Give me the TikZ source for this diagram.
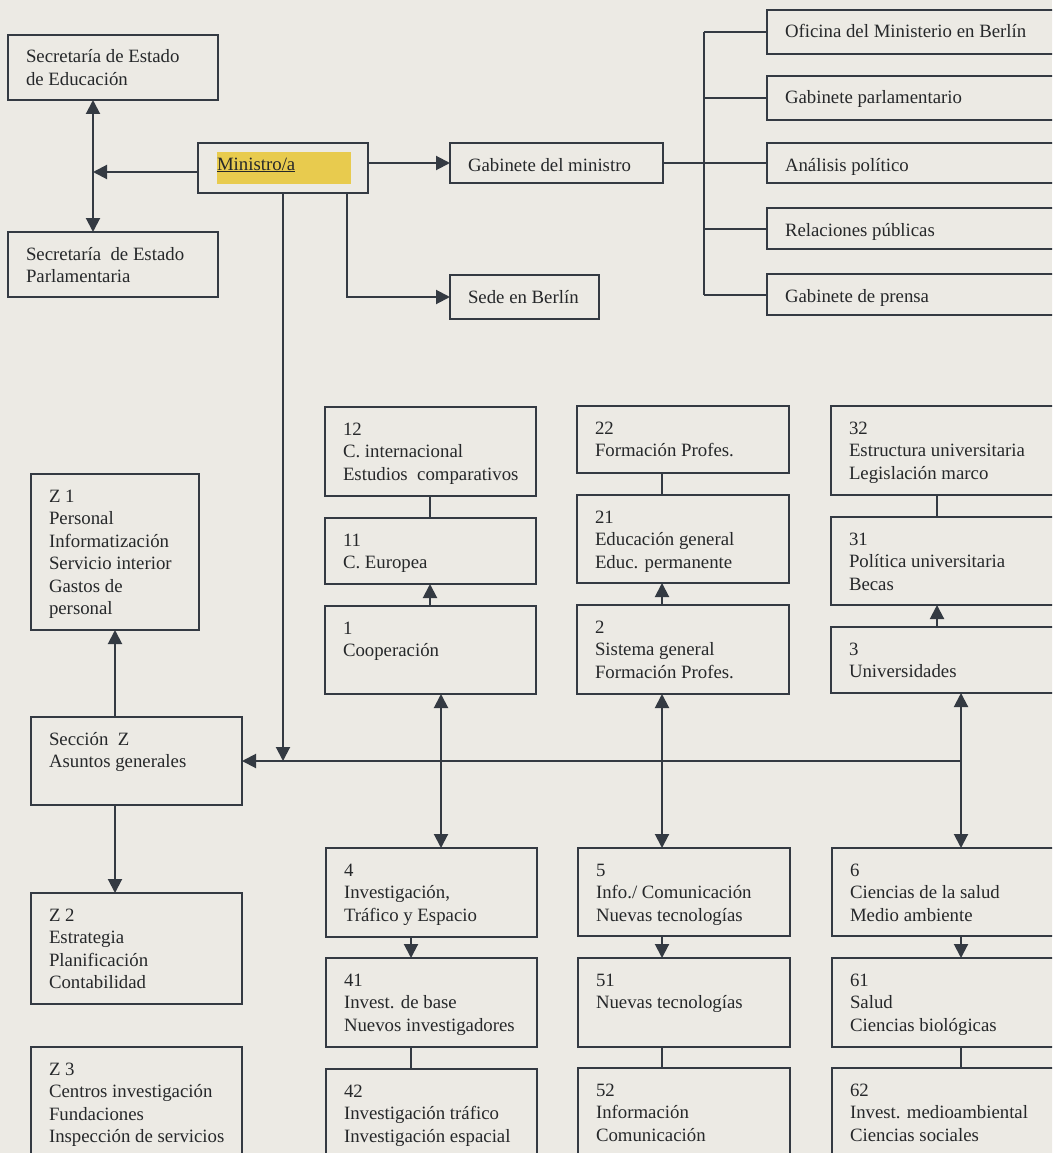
\documentclass[tikz,border=0pt]{standalone}
\usepackage{fontspec}
\setmainfont{Liberation Serif}
\usetikzlibrary{arrows.meta}
\definecolor{bg}{RGB}{236,234,228}
\definecolor{ln}{RGB}{52,58,66}
\definecolor{tx}{RGB}{38,40,42}
\definecolor{hl}{RGB}{232,203,78}
\tikzset{
 boxst/.style={draw=ln, line width=2.1pt, fill=bg, inner sep=0pt, outer sep=0pt},
 txtst/.style={anchor=north west, inner sep=0pt, outer sep=0pt, align=left, text=tx, font=\fontsize{18.8pt}{22.5pt}\selectfont},
 con/.style={draw=ln, line width=2pt},
 arr/.style={con, -{Triangle[width=14pt,length=14pt]}},
 darr/.style={con, {Triangle[width=14pt,length=14pt]}-{Triangle[width=14pt,length=14pt]}},
}
\newcommand\bx[6]{%
 \node[boxst, anchor=north west, minimum width={#4-#2}, minimum height={#5-#3}] (#1) at (#2,#3) {};
 \node[txtst] (#1t) at ([xshift=18pt,yshift=-13pt]#1.north west) {\rule{0pt}{15pt}#6};
}
\begin{document}
\begin{tikzpicture}[x=1pt,y=-1pt]
\useasboundingbox (0,0) rectangle (1052,1153);
\clip (0,0) rectangle (1052,1153);
\fill[bg] (0,0) rectangle (1052,1153);

% top
\bx{sedu}{8}{35}{218}{100}{Secretaría de Estado\\de Educación}
\bx{spar}{8}{232}{218}{297}{Secretaría\ \ de Estado\\Parlamentaria}
\node[boxst, anchor=north west, minimum width=170, minimum height=50] (min) at (198,143) {};
\node[fill=hl, inner sep=0pt, anchor=north west, minimum width=134, minimum height=32] (minhl) at (217,152) {};
\node[txtst] (mint) at (217,155) {\rule{0pt}{15pt}\underline{Ministro/a}};
\bx{gab}{450}{143}{663}{183}{Gabinete del ministro}
\bx{sede}{450}{275}{599}{319}{Sede en Berlín}
\bx{ofi}{767}{10}{1070}{54}{Oficina del Ministerio en Berlín}
\bx{gpar}{767}{76}{1070}{120}{Gabinete parlamentario}
\bx{anal}{767}{143}{1070}{183}{Análisis político}
\bx{rel}{767}{208}{1070}{249}{Relaciones públicas}
\bx{pren}{767}{274}{1070}{315}{Gabinete de prensa}

% left column
\bx{z1}{31}{474}{199}{630}{Z 1\\Personal\\Informatización\\Servicio interior\\Gastos de\\personal}
\bx{secz}{31}{717}{242}{805}{Sección\ \ Z\\Asuntos generales}
\bx{z2}{31}{893}{242}{1004}{Z 2\\Estrategia\\Planificación\\Contabilidad}
\bx{z3}{31}{1047}{242}{1170}{Z 3\\Centros investigación\\Fundaciones\\Inspección de servicios}

% column 1
\bx{b12}{325}{407}{536}{496}{12\\C. internacional\\Estudios\ \ comparativos}
\bx{b11}{325}{518}{536}{584}{11\\C. Europea}
\bx{b1}{325}{606}{536}{694}{1\\Cooperación}
\bx{b4}{326}{848}{537}{937}{4\\Investigación,\\Tráfico y Espacio}
\bx{b41}{326}{958}{537}{1047}{41\\Invest. de base\\Nuevos investigadores}
\bx{b42}{326}{1069}{537}{1170}{42\\Investigación tráfico\\Investigación espacial}

% column 2
\bx{b22}{577}{406}{789}{473}{22\\Formación Profes.}
\bx{b21}{577}{495}{789}{583}{21\\Educación general\\Educ. permanente}
\bx{b2}{577}{605}{789}{694}{2\\Sistema general\\Formación Profes.}
\bx{b5}{578}{848}{790}{936}{5\\Info./ Comunicación\\Nuevas tecnologías}
\bx{b51}{578}{958}{790}{1047}{51\\Nuevas tecnologías}
\bx{b52}{578}{1068}{790}{1170}{52\\Información\\Comunicación}

% column 3
\bx{b32}{831}{406}{1070}{495}{32\\Estructura universitaria\\Legislación marco}
\bx{b31}{831}{517}{1070}{605}{31\\Política universitaria\\Becas}
\bx{b3}{831}{627}{1070}{693}{3\\Universidades}
\bx{b6}{832}{848}{1070}{936}{6\\Ciencias de la salud\\Medio ambiente}
\bx{b61}{832}{958}{1070}{1047}{61\\Salud\\Ciencias biológicas}
\bx{b62}{832}{1068}{1070}{1170}{62\\Invest. medioambiental\\Ciencias sociales}

% guide coordinates
\coordinate (xS) at (93,0);
\coordinate (xM) at (283,0);
\coordinate (xB) at (347,0);
\coordinate (xR) at (704,0);
\coordinate (xZ) at (115,0);
\coordinate (x1a) at (430,0);
\coordinate (x1b) at (441,0);
\coordinate (x4a) at (411,0);
\coordinate (x2) at (662,0);
\coordinate (x3a) at (937,0);
\coordinate (x3b) at (961,0);
\coordinate (yL) at (0,172);

% connectors top
\draw[darr] (sedu.south -| xS) -- (spar.north -| xS);
\draw[arr] (min.west |- yL) -- (xS |- yL);
\draw[arr] (min.east |- gab.west) -- (gab.west);
\draw[arr] (min.south -| xB) -- (xB |- sede.west) -- (sede.west);
\draw[con] (gab.east) -- (xR |- gab.east);
\draw[con] (xR |- ofi.west) -- (xR |- pren.west);
\foreach \n in {ofi,gpar,anal,rel,pren} \draw[con] (xR |- \n.west) -- (\n.west);

% main bus
\draw[arr] (min.south -| xM) -- (xM |- secz.east);
\draw[arr] (x3b |- secz.east) -- (secz.east);
\draw[arr] (secz.north -| xZ) -- (z1.south -| xZ);
\draw[arr] (secz.south -| xZ) -- (z2.north -| xZ);

% column 1
\draw[con] (b12.south -| x1a) -- (b11.north -| x1a);
\draw[arr] (b1.north -| x1a) -- (b11.south -| x1a);
\draw[darr] (b1.south -| x1b) -- (b4.north -| x1b);
\draw[arr] (b4.south -| x4a) -- (b41.north -| x4a);
\draw[con] (b41.south -| x4a) -- (b42.north -| x4a);

% column 2
\draw[con] (b22.south -| x2) -- (b21.north -| x2);
\draw[arr] (b2.north -| x2) -- (b21.south -| x2);
\draw[darr] (b2.south -| x2) -- (b5.north -| x2);
\draw[arr] (b5.south -| x2) -- (b51.north -| x2);
\draw[con] (b51.south -| x2) -- (b52.north -| x2);

% column 3
\draw[con] (b32.south -| x3a) -- (b31.north -| x3a);
\draw[arr] (b3.north -| x3a) -- (b31.south -| x3a);
\draw[darr] (b3.south -| x3b) -- (b6.north -| x3b);
\draw[arr] (b6.south -| x3b) -- (b61.north -| x3b);
\draw[con] (b61.south -| x3b) -- (b62.north -| x3b);
\end{tikzpicture}
\end{document}
